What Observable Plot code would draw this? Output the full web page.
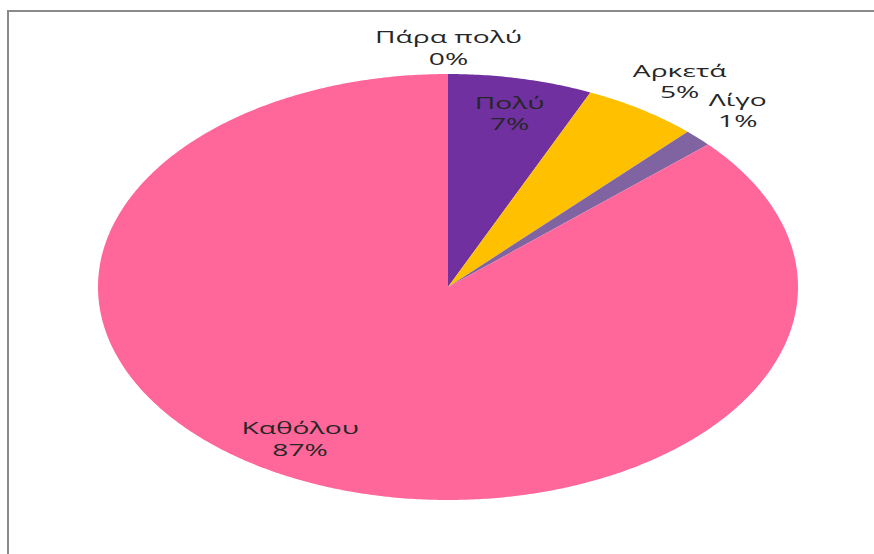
<!DOCTYPE html>
<html>
<head>
<meta charset="utf-8">
<script src="https://cdn.jsdelivr.net/npm/d3@7"></script>
<script src="https://cdn.jsdelivr.net/npm/@observablehq/plot@0.6"></script>
<style>
  html, body { margin: 0; padding: 0; background: #fff; }
  #wrap { position: relative; width: 874px; height: 554px; overflow: hidden; }
  #border { position: absolute; left: 7px; top: 10px; width: 900px; height: 600px;
            border-top: 2px solid #8a8a8a; border-left: 2px solid #8a8a8a; box-sizing: border-box; }
  #chart { position: absolute; left: 0; top: 0; }
</style>
</head>
<body>
<div id="wrap"><div id="border"></div><div id="chart"></div></div>
<script>
// Data
const categories = ["Πάρα πολύ", "Πολύ", "Αρκετά", "Λίγο", "Καθόλου"];
const counts = [0, 5, 4, 1, 65];
const colors = ["#4F81BD", "#7030A0", "#FFC000", "#8064A2", "#FF6699"];
// label layout (radius factor and angle shift in degrees from the slice middle)
const labelRadius = [1.13, 0.84, 1.175, 1.175, 0.823];
const labelShift = [0, 0, 0.6, -0.9, 7];

const total = d3.sum(counts);
let acc = 0;
const slices = categories.map((c, i) => {
  const a0 = acc / total * 360;
  acc += counts[i];
  const a1 = acc / total * 360;
  return {cat: c, a0, a1, value: counts[i], pct: Math.round(counts[i] / total * 100)};
});

const rad = d => d * Math.PI / 180;
const pts = [];
for (const s of slices) {
  if (s.a1 <= s.a0) continue;
  const n = Math.max(2, Math.ceil((s.a1 - s.a0) / 0.5));
  for (let k = 0; k <= n; k++) {
    const a = s.a0 + (s.a1 - s.a0) * k / n;
    pts.push({cat: s.cat, x: Math.sin(rad(a)), y: Math.cos(rad(a))});
  }
}

const labels = slices.map((s, i) => {
  const a = (s.a0 + s.a1) / 2 + labelShift[i];
  return {cat: s.cat, x: labelRadius[i] * Math.sin(rad(a)), y: labelRadius[i] * Math.cos(rad(a)),
          text: s.cat + "\n" + s.pct + "%"};
});

const chart = Plot.plot({
  width: 874,
  height: 554,
  margin: 0,
  x: {domain: [-1, 1], range: [98, 798], axis: null},
  y: {domain: [-1, 1], range: [500, 74], axis: null},
  color: {domain: categories, range: colors},
  style: {fontFamily: "'Open Sans', sans-serif", background: "transparent"},
  marks: [
    Plot.area(pts, {x1: "x", y1: "y", x2: () => 0, y2: () => 0, fill: "cat", z: "cat", curve: "linear"}),
    Plot.text(labels, {x: "x", y: "y", text: "text", fontSize: 17, lineHeight: 1.28, fill: "#262626"})
  ]
});
// the reference chart is stretched horizontally; stretch the labels the same way
const sx = 1.66;
chart.querySelectorAll("text").forEach(t => {
  const tr = t.getAttribute("transform");
  if (tr) {
    t.setAttribute("transform", tr + ` scale(${sx},1)`);
  } else {
    const x = +t.getAttribute("x") || 0, y = +t.getAttribute("y") || 0;
    t.setAttribute("transform", `translate(${x},${y}) scale(${sx},1) translate(${-x},${-y})`);
  }
});
document.getElementById("chart").appendChild(chart);
</script>
</body>
</html>
